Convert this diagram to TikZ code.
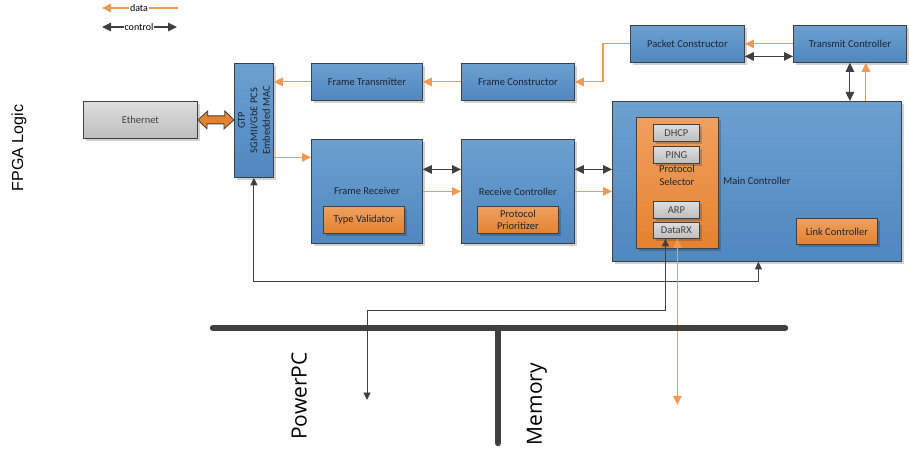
\documentclass[tikz,border=0pt]{standalone}
\usepackage{fontspec}
\setmainfont{Carlito}
\newfontfamily\arialf{Liberation Sans}
\newfontfamily\opensf{Open Sans}
\usetikzlibrary{arrows.meta,shadows,calc}
\definecolor{blueT}{HTML}{6CA0D0}
\definecolor{blueB}{HTML}{4F87BF}
\definecolor{orT}{HTML}{EFA060}
\definecolor{orB}{HTML}{E4822F}
\definecolor{grT}{HTML}{DEDEDE}
\definecolor{grB}{HTML}{BDBDBD}
\definecolor{orLine}{HTML}{EE9A55}
\definecolor{dk}{HTML}{404040}
\definecolor{txt}{HTML}{1E2430}
\tikzset{
  box/.style={draw=dk, line width=0.8pt, anchor=north west, inner sep=0pt, align=center,
    font=\fontsize{10.5}{13}\selectfont, text=txt,
    drop shadow={shadow xshift=2.5pt, shadow yshift=-2.5pt, fill=black, opacity=0.18}},
  bluebox/.style={box, top color=blueT, bottom color=blueB},
  orbox/.style={box, top color=orT, bottom color=orB},
  grbox/.style={box, top color=grT, bottom color=grB, text=black!75},
  tip/.tip={Triangle[length=9pt,width=8.5pt]},
  stip/.tip={Triangle[length=7.5pt,width=7pt]},
  dat/.style={draw=orLine, line width=1.1pt, -{tip[fill=orLine]}},
  datb/.style={draw=orLine, line width=1.1pt, {tip[fill=orLine]}-{tip[fill=orLine]}},
  ctl/.style={draw=dk, line width=1.1pt, {tip[fill=dk]}-{tip[fill=dk]}},
  ctls/.style={draw=dk, line width=0.9pt, {stip[fill=dk]}-{stip[fill=dk]}},
  bus/.style={draw=dk, line width=6.5pt, line cap=round},
  biglabel/.style={rotate=90, font=\opensf\fontsize{21}{24}\selectfont, text=black},
  legtext/.style={fill=white, inner sep=1pt, font=\fontsize{10}{12}\selectfont, text=black}
}
\begin{document}
\begin{tikzpicture}[x=1pt,y=-1pt]
\useasboundingbox (0,0) rectangle (909,449);
\fill[white] (0,0) rectangle (909,449);

% legend
\coordinate (dl) at (102,8);
\coordinate (dr) at (178,8);
\coordinate (cl) at (102,27);
\coordinate (cr) at (177,27);
\draw[draw=orLine, line width=1.1pt, {tip[fill=orLine]}-] (dl) -- (dr);
\node[legtext] (dtxt) at (139,8) {data};
\draw[ctl] (cl) -- (cr);
\node[legtext] (ctxt) at (139,27) {control};

% big labels
\node[rotate=90, font=\arialf\fontsize{16}{20}\selectfont, text=black] (fpga) at (19,148) {FPGA Logic};
\node[biglabel] (ppc) at (299,396) {PowerPC};
\node[biglabel] (memt) at (537,404) {Memory};

% boxes
\node[grbox, minimum width=114pt, minimum height=37pt] (eth) at (83,101) {Ethernet};
\node[bluebox, minimum width=39pt, minimum height=114pt] (gtp) at (234,63) {};
\node[rotate=90, align=center, font=\fontsize{10.5}{12.5}\selectfont, text=txt] (gtpt) at (gtp.center) {GTP\\SGMII/GbE PCS\\Embedded MAC};
\node[bluebox, minimum width=111pt, minimum height=37pt] (ft) at (311,63) {Frame Transmitter};
\node[bluebox, minimum width=113pt, minimum height=37pt] (fc) at (461,63) {Frame Constructor};
\node[bluebox, minimum width=114pt, minimum height=37pt] (pc) at (630,25) {Packet Constructor};
\node[bluebox, minimum width=113pt, minimum height=37pt] (tc) at (793,25) {Transmit Controller};
\node[bluebox, minimum width=289pt, minimum height=160pt] (mc) at (612,101) {};
\node[font=\fontsize{10.5}{13}\selectfont, text=txt] (mct) at (757,181) {Main Controller};
\node[orbox, minimum width=82pt, minimum height=131pt] (ps) at (636,117) {};
\node[align=center, font=\fontsize{10.5}{13}\selectfont, text=txt] (pst) at (677,175) {Protocol\\Selector};
\node[grbox, minimum width=46pt, minimum height=17pt] (dhcp) at (653,124) {DHCP};
\node[grbox, minimum width=46pt, minimum height=17pt] (ping) at (653,146) {PING};
\node[grbox, minimum width=46pt, minimum height=17pt] (arp) at (653,201) {ARP};
\node[grbox, minimum width=46pt, minimum height=16pt] (drx) at (653,222) {DataRX};
\node[orbox, minimum width=81pt, minimum height=26pt] (lc) at (796,218) {Link Controller};
\node[bluebox, minimum width=111pt, minimum height=104pt] (fr) at (311,139) {Frame Receiver};
\node[orbox, minimum width=81pt, minimum height=27pt] (tv) at (323,206) {Type Validator};
\node[bluebox, minimum width=113pt, minimum height=104pt] (rc) at (461,139) {Receive Controller};
\node[orbox, minimum width=81pt, minimum height=27pt] (pp) at (477,206) {Protocol\\[-1.5pt]Prioritizer};

% Ethernet <-> GTP block arrow
\draw[draw=dk, line width=0.8pt, fill=orB]
  (eth.east) -- ++(10,-9) -- ++(0,5) -- ++(17,0) -- ++(0,-5) -- (eth.east -| gtp.west)
  -- ++(-10,9) -- ++(0,-5) -- ++(-17,0) -- ++(0,5) -- cycle;

% data paths (transmit)
\draw[dat] (ft.west) -- (ft.west -| gtp.east);
\draw[dat] (fc.west) -- (ft.east);
\draw[dat] (pc.west) -- ++(-27,0) |- (fc.east);
\draw[dat] (tc.west) -- (pc.east);
\coordinate (k1) at ([yshift=-12.5pt]pc.east);
\draw[ctl] (k1) -- (k1 -| tc.west);
\draw[ctl] (tc.south) -- (tc.south |- mc.north);
\coordinate (k2) at ([xshift=16pt]tc.south);
\draw[dat] (k2 |- mc.north) -- (k2);

% receive
\coordinate (g1) at ([yshift=-37pt]gtp.east);
\draw[dat] (g1) -- (g1 -| fr.west);
\coordinate (k3) at ([yshift=22pt]fr.east);
\draw[ctl] (k3) -- (k3 -| rc.west);
\draw[dat] (fr.east) -- (rc.west);
\coordinate (k4) at ([yshift=22pt]rc.east);
\draw[ctl] (k4) -- (k4 -| mc.west);
\draw[dat] (rc.east) -- (rc.east -| mc.west);

% GTP <-> Main Controller control loop
\coordinate (m1) at ([xshift=1.5pt]mc.south);
\draw[ctls] (gtp.south) -- ++(0,104) -| (m1);

% DataRX to PowerPC / Memory
\coordinate (d1) at ([xshift=-11pt]drx.south);
\coordinate (d2) at ([xshift=1pt]drx.south);
\coordinate (pend) at (367,400);
\coordinate (oend) at (677,405);
\draw[ctls] (d1) -- ++(0,72) -| (pend);
\draw[datb] (d2) -- (d2 |- oend);

% bus
\coordinate (busL) at (213,328);
\coordinate (busR) at (785,328);
\coordinate (busJ) at (498,328);
\coordinate (busB) at (498,443);
\draw[bus] (busL) -- (busR);
\draw[bus] (busJ) -- (busB);
\end{tikzpicture}
\end{document}
